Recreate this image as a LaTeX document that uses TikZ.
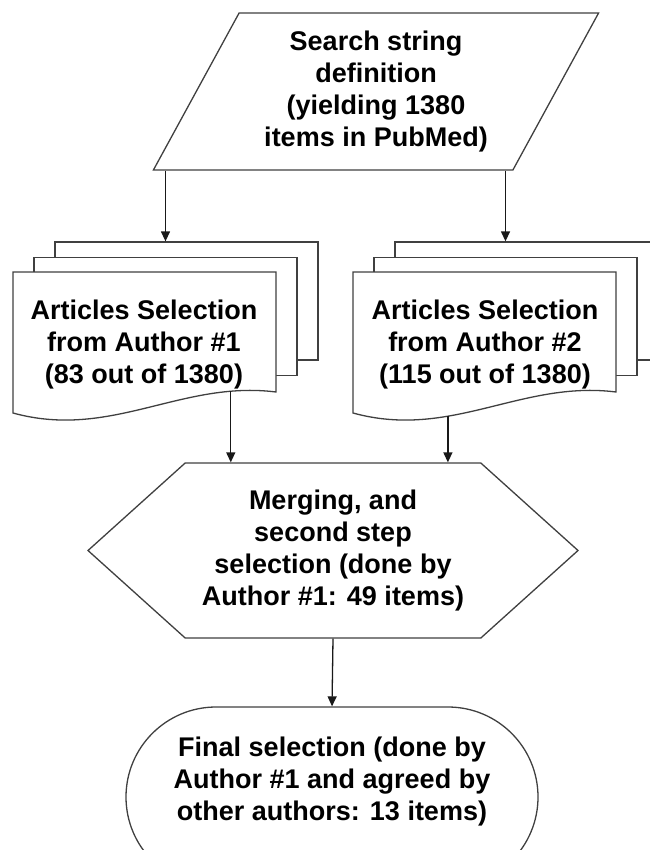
\documentclass[tikz,border=0pt]{standalone}
\usepackage{fontspec}
\setmainfont{Liberation Sans}
\usetikzlibrary{shapes.geometric,shapes.symbols,arrows.meta,positioning,calc}

\tikzset{
  txt/.style={font=\fontsize{27}{32}\selectfont\bfseries, align=center, text=black},
  outline/.style={draw=black!75, line width=1.3pt, fill=white},
  sheet/.style={outline, rectangle, minimum width=263pt, minimum height=118pt, inner sep=0pt},
  arr/.style={-{Triangle[length=10pt,width=9pt]}, draw=black!90, line width=1.3pt},
}

\begin{document}
\begin{tikzpicture}[x=1pt, y=-1pt]
\useasboundingbox (0,0) rectangle (649,850);

% Search string
\node[txt, outline, trapezium, trapezium left angle=60, trapezium right angle=120,
  trapezium stretches=true, minimum width=446pt, minimum height=157pt, inner sep=0pt]
  (search) at (376,91.5) {Search string\\definition\\(yielding 1380\\items in PubMed)};

% Stacked article sheets
\foreach \name/\x/\p in {sel1/13/0.165, sel2/353/0.65} {
  \node[sheet] (\name back) at (\x+173.5, 301) {};
  \node[sheet] (\name mid) at (\x+152.5, 316.5) {};
  \draw[outline] (\x,272) -- (\x+263,272) -- (\x+263,392)
    .. controls (\x+168,380) and (\x+98,440) .. coordinate[pos=\p] (\name out) (\x,413) -- cycle;
}
\node[txt] (sel1) at (144,345) {Articles Selection\\from Author \#1\\(83 out of 1380)};
\node[txt] (sel2) at (485,345) {Articles Selection\\from Author \#2\\(115 out of 1380)};

% Merging
\node[txt, outline, signal, signal to=west and east, signal pointer angle=84,
  minimum width=490pt, minimum height=175pt, inner sep=0pt]
  (merge) at (333,550.5) {Merging, and\\second step\\selection (done by\\Author \#1: 49 items)};

% Final selection
\node[outline, rectangle, rounded corners=90pt, minimum width=412pt, minimum height=180pt] (final) at (332,797) {};
\node[txt] (finaltext) at ([yshift=15pt]final.center) {Final selection (done by\\Author \#1 and agreed by\\other authors: 13 items)};

% Arrows
\draw[arr] (search.south -| sel1mid) -- (sel1back.north -| sel1mid);
\draw[arr] (search.south -| sel2mid) -- (sel2back.north -| sel2mid);
\draw[arr] (sel1out) -- (sel1out |- merge.north);
\draw[arr] (sel2out) -- (sel2out |- merge.north);
\draw[arr] (merge.south) -- (final.north);
\end{tikzpicture}
\end{document}
